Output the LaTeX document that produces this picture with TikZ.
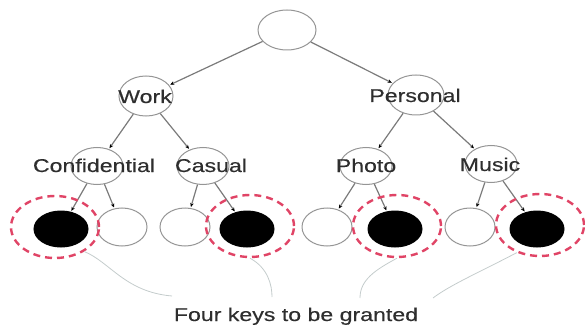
\documentclass[tikz,border=0pt]{standalone}
\usepackage{fontspec}
\setmainfont{Liberation Sans}
\newfontfamily\widesans[FakeStretch=1.25,FakeBold=0.4]{Liberation Sans}
\usetikzlibrary{shapes.geometric,arrows.meta}

\definecolor{ellgray}{HTML}{959595}
\definecolor{edgegray}{HTML}{7A7A7A}
\definecolor{keyred}{HTML}{E04466}
\definecolor{bracegray}{HTML}{C4CCCC}
\definecolor{textgray}{HTML}{2E2E2E}

\begin{document}
\begin{tikzpicture}[x=1pt,y=-1pt,
  ell/.style={draw=ellgray, line width=1pt, ellipse, inner sep=0pt,
    minimum width=#1, minimum height=38pt},
  ell/.default=54pt,
  mid/.style={ell=52pt, minimum height=37pt},
  keynode/.style={ell, fill=black, draw=black, minimum height=36pt},
  ring/.style={draw=keyred, dash pattern=on 7pt off 5pt, line width=2.4pt,
    ellipse, inner sep=0pt, minimum width=88pt, minimum height=62pt},
  lbl/.style={font=\widesans\fontsize{18.5}{22}\selectfont, text=textgray,
    inner sep=0pt, anchor=base},
  edge/.style={draw=edgegray, line width=1.2pt, shorten >=1pt,
    -{Stealth[length=4pt,width=3.5pt,color=black]}},
  brace/.style={draw=bracegray, line width=0.8pt}]

\useasboundingbox (0,0) rectangle (585,331);

% tree nodes
\node[ell=58pt, minimum height=40pt] (root) at (287,30) {};
\node[ell=54pt, minimum height=40pt] (work) at (146,96) {};
\node[ell=56pt, minimum height=40pt] (personal) at (416,95) {};
\node[mid] (conf) at (97,166) {};
\node[mid] (casual) at (203,166) {};
\node[mid] (photo) at (366,166) {};
\node[mid] (music) at (491,164) {};

% leaves: filled ones are the keys
\node[keynode] (k1) at (61,229) {};
\node[ell=50pt] (w1) at (122,227) {};
\node[ell=50pt] (w2) at (185,227) {};
\node[keynode] (k2) at (247,229) {};
\node[ell=50pt] (w3) at (327,227) {};
\node[keynode] (k3) at (395,229) {};
\node[ell=50pt] (w4) at (470,227) {};
\node[keynode] (k4) at (537,229) {};

% labels
\node[lbl] (tw) at (145,103) {Work};
\node[lbl] (tp) at (415,102) {Personal};
\node[lbl] (tc) at (94,172) {Confidential};
\node[lbl] (ts) at (211,172) {Casual};
\node[lbl] (th) at (366,172) {Photo};
\node[lbl] (tm) at (490,171) {Music};
\node[lbl] (caption) at (296,321) {Four keys to be granted};

% edges
\draw[edge] (root) -- (work);
\draw[edge] (root) -- (personal);
\draw[edge] (work) -- (conf);
\draw[edge] (work) -- (casual);
\draw[edge] (personal) -- (photo);
\draw[edge] (personal) -- (music);
\draw[edge] (conf) -- (k1);
\draw[edge] (conf) -- (w1);
\draw[edge] (casual) -- (w2);
\draw[edge] (casual) -- (k2);
\draw[edge] (photo) -- (w3);
\draw[edge] (photo) -- (k3);
\draw[edge] (music) -- (w4);
\draw[edge] (music) -- (k4);

% dashed rings round the granted keys
\node[ring] (r1) at (55,227) {};
\node[ring] (r2) at (250,226) {};
\node[ring] (r3) at (397,226) {};
\node[ring] (r4) at (540,225) {};

% strokes gathering the rings towards the caption
\coordinate (e1) at (172,296);
\coordinate (e2) at (272,297);
\coordinate (e3) at (360,298);
\coordinate (e4) at (433,298);
\draw[brace] (r1.-40) .. controls (110,262) and (125,292) .. (e1);
\draw[brace] (r2.south) .. controls (268,268) and (272,285) .. (e2);
\draw[brace] (r3.south) .. controls (375,270) and (360,280) .. (e3);
\draw[brace] (r4.-130) .. controls (480,272) and (450,285) .. (e4);
\end{tikzpicture}
\end{document}
